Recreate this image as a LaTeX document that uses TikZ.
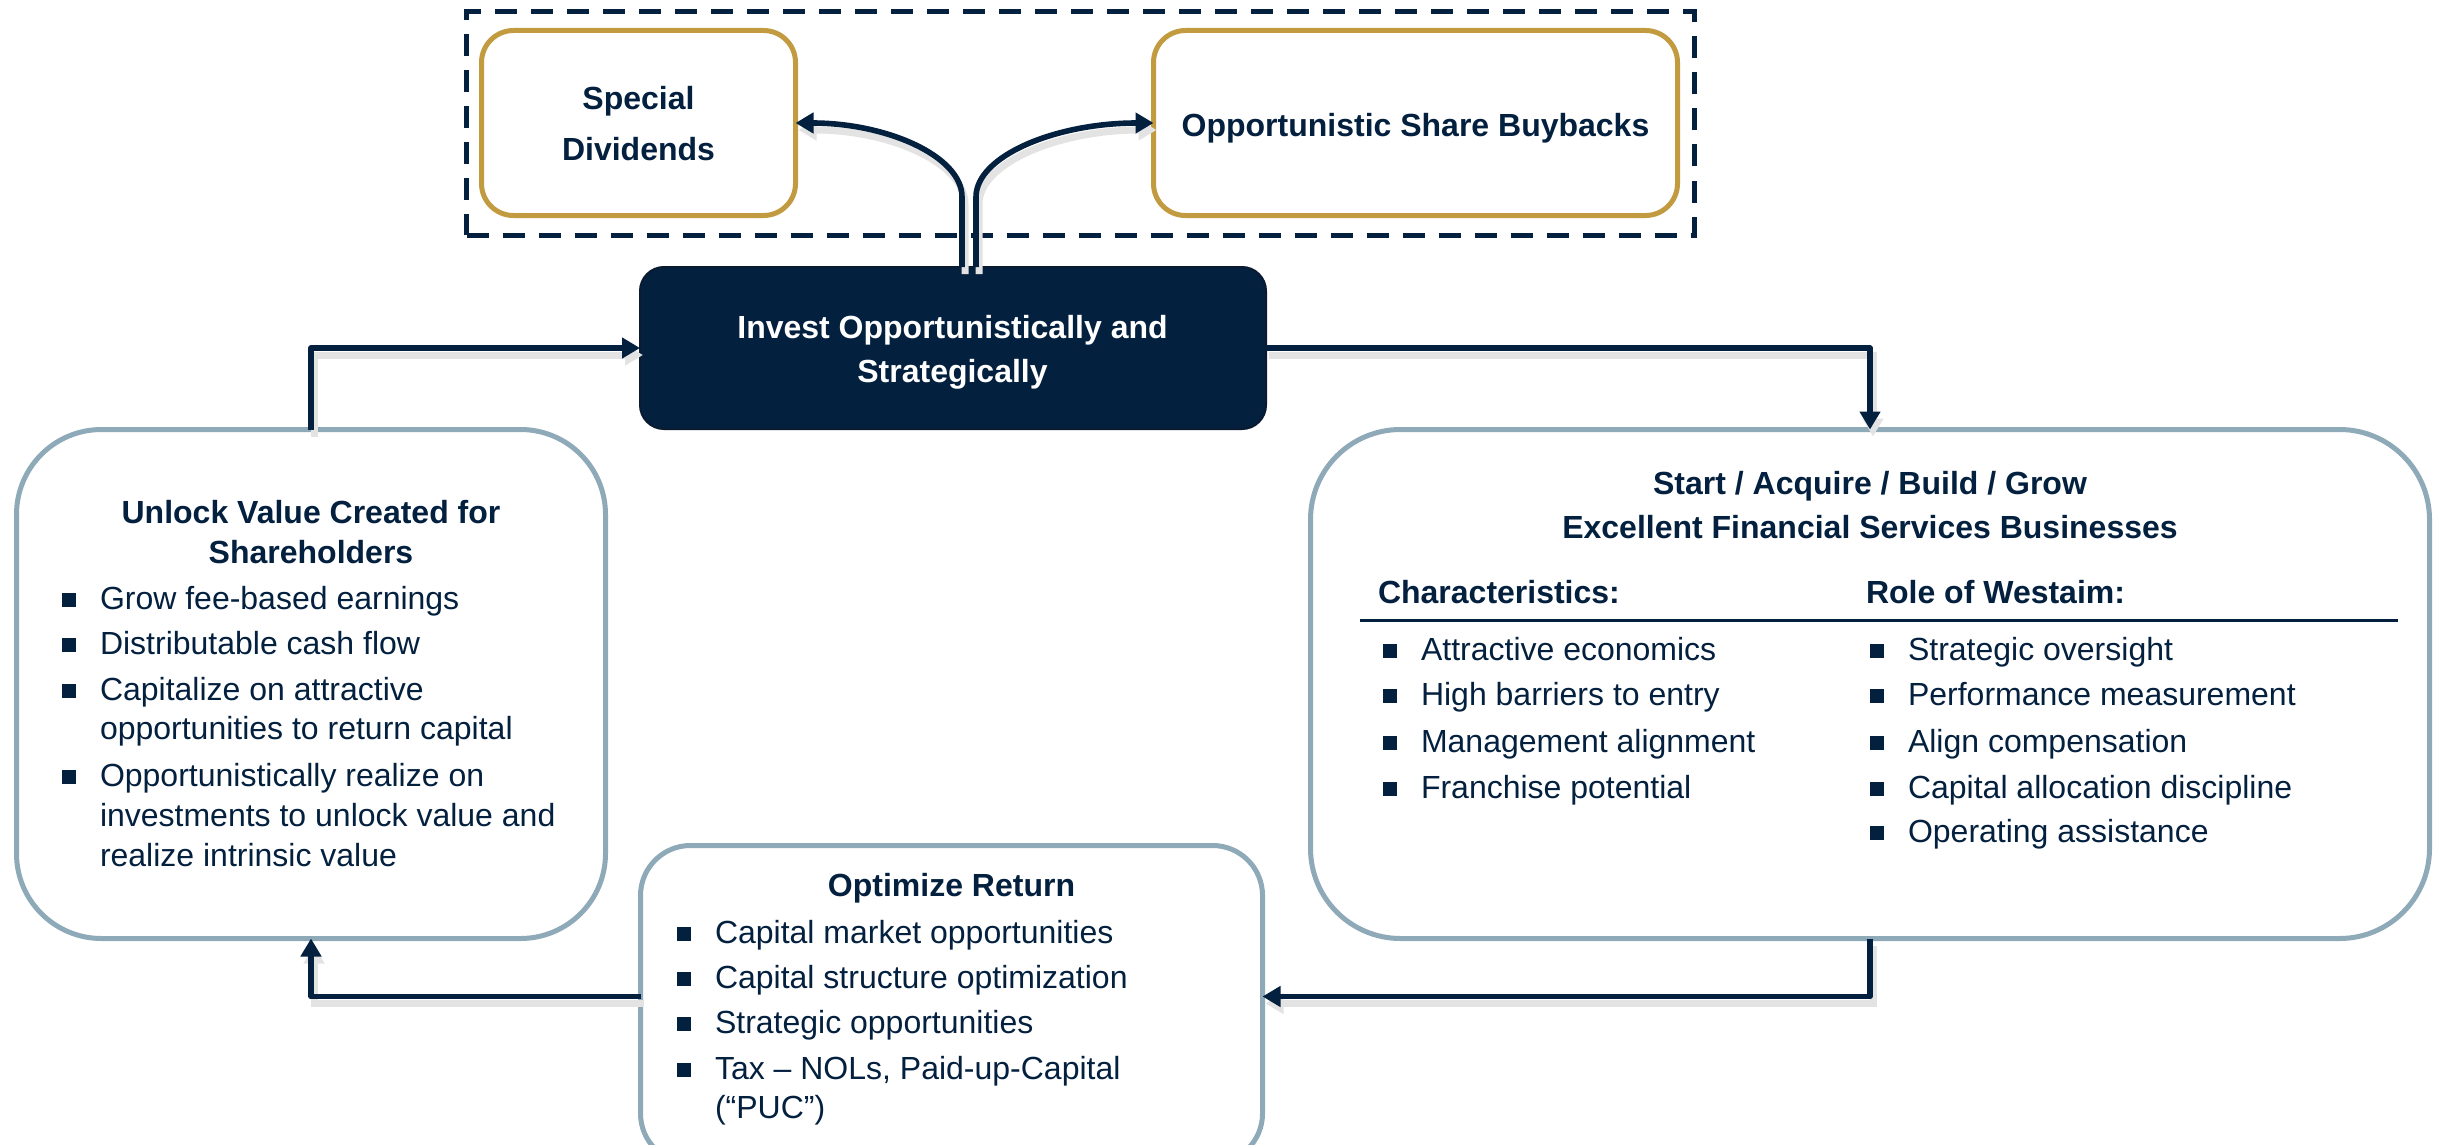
\documentclass[tikz,border=0pt]{standalone}
\usepackage{fontspec}
\setmainfont{Liberation Sans}
\usetikzlibrary{arrows.meta,calc}

\definecolor{navy}{HTML}{04203F}
\definecolor{navyedge}{HTML}{0A1A30}
\definecolor{gold}{HTML}{C29B40}
\definecolor{steel}{HTML}{8EA9B7}

% square list bullet hung to the left of the item text
\newcommand\sqbullet{\llap{\rule[1pt]{7.2pt}{6.8pt}\hspace{12pt}}}

\begin{document}
\begin{tikzpicture}[x=0.5pt,y=-0.5pt,
  txt/.style={inner sep=0pt, outer sep=0pt, text=navy,
    font=\fontsize{16pt}{20pt}\selectfont},
  item/.style={txt, anchor=base west},
  head/.style={txt, anchor=base, font=\fontsize{16pt}{20pt}\selectfont\bfseries},
  colhead/.style={head, anchor=base west},
  panel/.style={draw=steel, line width=2.5pt, fill=white, inner sep=0pt, outer sep=0pt},
  option/.style={draw=gold, line width=2.5pt, fill=white, inner sep=0pt, outer sep=0pt,
    rounded corners=16pt},
  flow/.style={draw=navy, line width=2.8pt, line join=round,
    -{Triangle[length=9pt 0 0,width=10pt 0 0]},
    preaction={draw=black!11, line width=3.5pt,
      transform canvas={xshift=1.5pt,yshift=-3.5pt}}},
]
\useasboundingbox (0,0) rectangle (2440,1145);
\clip (0,0) rectangle (2440,1145);
\fill[white] (0,0) rectangle (2440,1145);

% ---- capital return options ----
\node[draw=navy, line width=2.5pt, dash pattern=on 11pt off 7pt, inner sep=0pt,
      minimum width=613.75pt, minimum height=111.5pt] (returns) at (1080.25,123.5) {};
\node[option, minimum width=157pt, minimum height=92.5pt] (div) at (638.5,123) {};
\node[option, minimum width=262pt, minimum height=92.5pt] (buy) at (1415.5,123) {};

% ---- cycle panels ----
\node[fill=navy, draw=navyedge, line width=1pt, rounded corners=12pt, inner sep=0pt,
      outer sep=0pt, minimum width=313pt, minimum height=81pt] (inv) at (953,348) {};
\node[panel, rounded corners=42.5pt, minimum width=294.5pt, minimum height=254.5pt]
      (unlock) at (311,684) {};
\node[panel, rounded corners=45pt, minimum width=559.5pt, minimum height=254.5pt]
      (grow) at (1870,684) {};
\node[panel, rounded corners=25pt, minimum width=311pt, minimum height=159pt]
      (opt) at (951.5,1004.5) {};

% ---- connectors ----
\draw[flow] (unlock.north) |- (inv.west);
\draw[flow] (inv.east) -| (grow.north);
\draw[flow] (grow.south) |- ([yshift=4pt]opt.east);
\draw[flow] ([yshift=4pt]opt.west) -| (unlock.south);
\draw[flow] ($(inv.north)+(9,0)$) -- ($(inv.north)+(9,-70)$)
  .. controls ($(inv.north)+(9,-111)$) and ($(div.east)+(91,0)$) .. (div.east);
\draw[flow] ($(inv.north)+(23,0)$) -- ($(inv.north)+(23,-70)$)
  .. controls ($(inv.north)+(23,-111)$) and ($(buy.west)+(-98,0)$) .. (buy.west);

% ---- texts: top ----
\node[head] (div1) at (638.5,110) {Special};
\node[head] (div2) at (638.5,160) {Dividends};
\node[head] (buyt) at (1415.5,136) {Opportunistic Share Buybacks};
\node[head, text=white] (inv1) at (952.5,338) {Invest Opportunistically and};
\node[head, text=white] (inv2) at (952.5,382) {Strategically};

% ---- texts: unlock value ----
\node[head] (un1) at (311,523) {Unlock Value Created for};
\node[head] (un2) at (311,563) {Shareholders};
\node[item] (u1)  at (100,609) {\sqbullet Grow fee-based earnings};
\node[item] (u2)  at (100,654) {\sqbullet Distributable cash flow};
\node[item] (u3)  at (100,700) {\sqbullet Capitalize on attractive};
\node[item] (u3b) at (100,739) {opportunities to return capital};
\node[item] (u4)  at (100,786) {\sqbullet Opportunistically realize on};
\node[item] (u4b) at (100,826) {investments to unlock value and};
\node[item] (u4c) at (100,866) {realize intrinsic value};

% ---- texts: optimize return ----
\node[head] (op0) at (951.5,896) {Optimize Return};
\node[item] (o1)  at (715,943)  {\sqbullet Capital market opportunities};
\node[item] (o2)  at (715,988)  {\sqbullet Capital structure optimization};
\node[item] (o3)  at (715,1033) {\sqbullet Strategic opportunities};
\node[item] (o4)  at (715,1079) {\sqbullet Tax -- NOLs, Paid-up-Capital};
\node[item] (o4b) at (715,1118) {(``PUC'')};

% ---- texts: start / acquire / build / grow ----
\node[head] (gr1) at (1870,494) {Start / Acquire / Build / Grow};
\node[head] (gr2) at (1870,538) {Excellent Financial Services Businesses};
\node[colhead] (ch) at (1378,603) {Characteristics:};
\node[colhead] (rw) at (1866,603) {Role of Westaim:};
\draw[navy, line width=1.5pt] (1360,620) -- (2398,620);
\node[item] (c1) at (1421,660) {\sqbullet Attractive economics};
\node[item] (c2) at (1421,705) {\sqbullet High barriers to entry};
\node[item] (c3) at (1421,752) {\sqbullet Management alignment};
\node[item] (c4) at (1421,798) {\sqbullet Franchise potential};
\node[item] (w1) at (1908,660) {\sqbullet Strategic oversight};
\node[item] (w2) at (1908,705) {\sqbullet Performance measurement};
\node[item] (w3) at (1908,752) {\sqbullet Align compensation};
\node[item] (w4) at (1908,798) {\sqbullet Capital allocation discipline};
\node[item] (w5) at (1908,842) {\sqbullet Operating assistance};
\end{tikzpicture}
\end{document}
